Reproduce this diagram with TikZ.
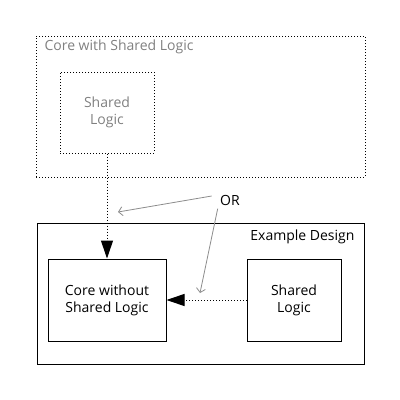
\documentclass[tikz,border=0pt]{standalone}
\usepackage{fontspec}
\setmainfont{Open Sans}
\usetikzlibrary{arrows.meta}

\definecolor{lightgrey}{RGB}{128,128,128}
\definecolor{pointergrey}{RGB}{140,140,140}

\begin{document}
\begin{tikzpicture}[x=1pt, y=-1pt, every node/.style={font=\fontsize{14}{17}\selectfont},
    box/.style={draw, line width=1pt, align=center, inner sep=0pt},
    dotbox/.style={box, dash pattern=on 1pt off 2pt},
    feed/.style={line width=1pt, dash pattern=on 1pt off 2pt, -{Triangle[length=18pt, width=12pt]}},
    pointer/.style={pointergrey, line width=0.8pt, -{Straight Barb[length=4pt, width=9pt]}}]
    \useasboundingbox (0,0) rectangle (400,400);
    % Core with Shared Logic (dotted)
    \node[dotbox, minimum width=329pt, minimum height=141pt] (coreshared) at (200.5,106.5) {};
    \node[anchor=west, text=lightgrey] (coretitle) at (41,47) {Core with Shared Logic};
    \node[dotbox, minimum width=94pt, minimum height=81pt, text=lightgrey] (slin) at (107,112.5) {Shared\\Logic};
    % Example Design box
    \node[box, minimum width=327pt, minimum height=141pt] (design) at (200.5,293.5) {};
    \node[anchor=east] (designtitle) at (358,237) {Example Design};
    \node[box, minimum width=118pt, minimum height=82pt] (corewo) at (107,300) {Core without\\Shared Logic};
    \node[box, minimum width=94pt, minimum height=82pt] (slout) at (294,300) {Shared\\Logic};
    % the two ways of feeding the core
    \draw[feed] (slin.south) -- (corewo.north);
    \draw[feed] (slout.west) -- (corewo.east);
    % OR pointers
    \node (or) at (230,200) {OR};
    \coordinate (ptr1) at (118,212);
    \coordinate (ptr2) at (200,293);
    \draw[pointer] ([xshift=-5pt, yshift=4pt]or.west) -- (ptr1);
    \draw[pointer] ([xshift=1pt]or.south west) -- (ptr2);
\end{tikzpicture}
\end{document}
